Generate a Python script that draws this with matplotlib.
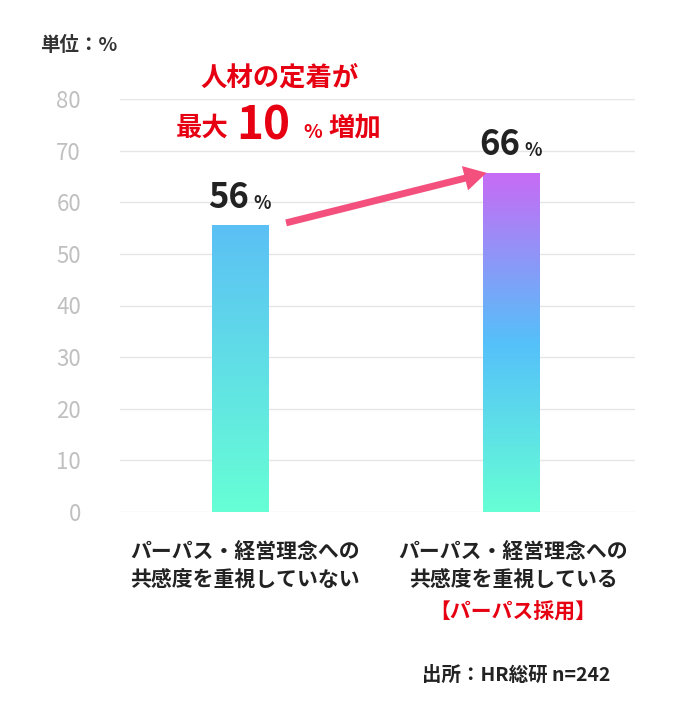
import numpy as np
import matplotlib
matplotlib.use("Agg")
import matplotlib.pyplot as plt
from matplotlib.colors import LinearSegmentedColormap

plt.rcParams["font.family"] = "Noto Sans CJK JP"

categories = ["パーパス・経営理念への\n共感度を重視していない", "パーパス・経営理念への\n共感度を重視している"]
values = [55.5, 65.7]
value_labels = ["56", "66"]
yticks = [0, 10, 20, 30, 40, 50, 60, 70, 80]

W, H = 685, 728
fig = plt.figure(figsize=(W/100, H/100), dpi=100)
ax = fig.add_axes([120/W, 1-512/H, 515/W, 413/H])
ax.set_ylim(0, 80)
ax.set_yticks(yticks)
ax.tick_params(axis="y", length=0, labelsize=16, labelcolor="#C0C0C0", pad=28)
ax.set_xticks([])
for s in ax.spines.values():
    s.set_visible(False)
ax.grid(axis="y", color="#E6E6E6", lw=1)
ax.set_axisbelow(True)

cmaps = [LinearSegmentedColormap.from_list("a", ["#66FFD5", "#5BC0F5"]),
         LinearSegmentedColormap.from_list("b", ["#66FFD5", "#55C0FA", "#C86BF5"])]
bw = 0.207
bars = ax.bar(range(2), values, width=bw, color="none")
grad = np.linspace(0, 1, 256).reshape(-1, 1)
for i, (b, v) in enumerate(zip(bars, values)):
    im = ax.imshow(grad, extent=[i-bw/2, i+bw/2, 0, v], origin="lower",
                   cmap=cmaps[i], aspect="auto", zorder=2)
    im.set_clip_path(b)
    ax.text(i+0.035, v + 2.0, value_labels[i], ha="right", va="bottom", fontsize=25,
            fontweight="bold", color="#222222")
    ax.text(i+0.05, v + 2.4, "%", ha="left", va="bottom", fontsize=13,
            fontweight="bold", color="#222222")
ax.set_xlim(-0.443, 1.458)

ax.annotate("", xy=(0.91, values[1]), xytext=(0.17, values[0]+0.5),
            arrowprops=dict(arrowstyle="simple,head_length=1.6,head_width=1.8,tail_width=0.5",
                            color="#F4507E", lw=0, shrinkA=0, shrinkB=0), zorder=3)

def ft(x, y, s, **kw):
    fig.text(x/W, 1-y/H, s, **kw)

ft(40, 45, "単位：%", fontsize=14, fontweight="bold", color="#333333", va="center")
ft(280, 78, "人材の定着が", fontsize=19, fontweight="bold", color="#E60012", ha="center", va="center")
ft(176, 128, "最大", fontsize=19, fontweight="bold", color="#E60012", va="center")
ft(236, 126, "10", fontsize=33, fontweight="bold", color="#E60012", va="center")
ft(303, 132, "%", fontsize=14, fontweight="bold", color="#E60012", va="center")
ft(328, 128, "増加", fontsize=19, fontweight="bold", color="#E60012", va="center")
ft(245, 566, categories[0], fontsize=15, fontweight="bold", color="#222222", ha="center", va="center", linespacing=1.45)
ft(513, 566, categories[1], fontsize=15, fontweight="bold", color="#222222", ha="center", va="center", linespacing=1.45)
ft(513, 612, "【パーパス採用】", fontsize=15, fontweight="bold", color="#E60012", ha="center", va="center")
ft(610, 675, "出所：HR総研 n=242", fontsize=14, fontweight="bold", color="#222222", ha="right", va="center")

fig.savefig("out.png", dpi=100, facecolor="white")
